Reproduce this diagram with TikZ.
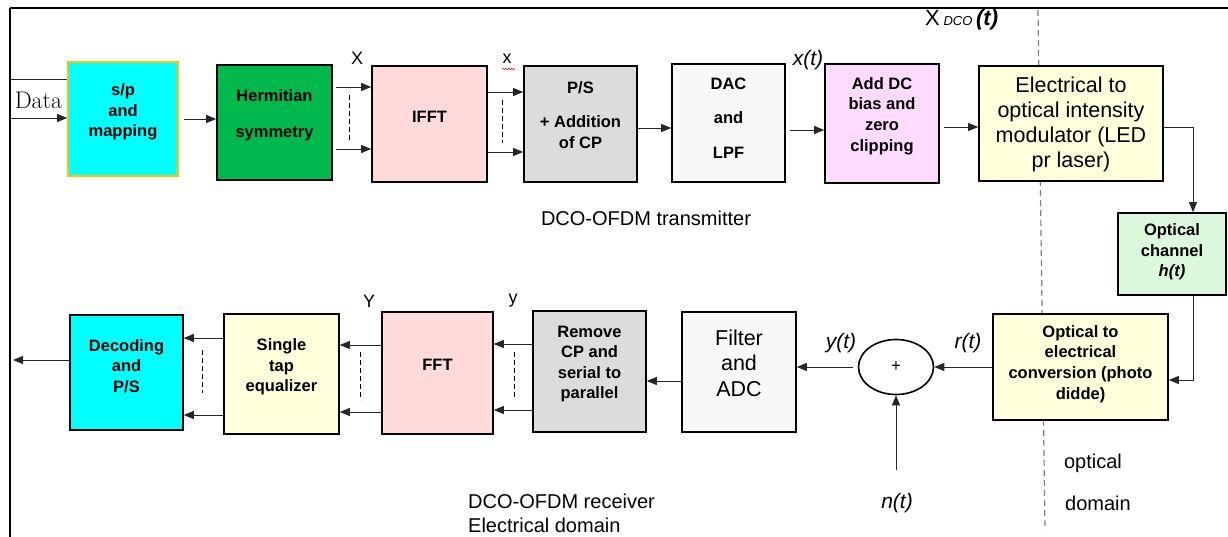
\documentclass[tikz,border=0pt]{standalone}
\usepackage{fontspec}
\newfontfamily\arialf{Liberation Sans}
\usetikzlibrary{arrows.meta,calc,decorations.pathmorphing,shapes.geometric}
\definecolor{cyanc}{HTML}{00FFFF}
\definecolor{goldc}{HTML}{FFC000}
\definecolor{greenc}{HTML}{00B84C}
\definecolor{pinkc}{HTML}{FFDADA}
\definecolor{grayc}{HTML}{DCDCDC}
\definecolor{whitec}{HTML}{F8F8F8}
\definecolor{lilac}{HTML}{FFDBFF}
\definecolor{yellowc}{HTML}{FFFFDC}
\definecolor{lgreenc}{HTML}{DCF8DC}
\definecolor{domgray}{HTML}{808080}
\begin{document}
\begin{tikzpicture}[x=1pt,y=-1pt,
  box/.style={draw=black, line width=1.6pt, inner sep=0pt},
  btxt/.style={font=\arialf\bfseries\fontsize{16.5}{20.6}\selectfont, align=center, inner sep=0pt},
  rtxt/.style={font=\arialf\fontsize{20}{25}\selectfont, align=center, inner sep=0pt},
  lbl/.style={font=\arialf\fontsize{18}{20}\selectfont, inner sep=0pt},
  ilbl/.style={font=\arialf\itshape\fontsize{21}{22}\selectfont, inner sep=0pt},
  arr/.style={draw=black!85, line width=0.8pt, -{Triangle[length=10pt,width=8pt]}},
  ln/.style={draw=black!85, line width=0.8pt},
  dsh/.style={draw=black, line width=1pt, dash pattern=on 5pt off 3pt}]
\useasboundingbox (0,0) rectangle (1228,537);

% frame
\draw[line width=1.5pt] (10,8) -- (1228,8);
\draw[line width=2.5pt] (10,8) -- (10,537);

% domain divider
\draw[domgray, line width=1.2pt, dash pattern=on 6pt off 4pt] (1038,10) -- (1045,530);

% transmitter boxes
\node[box, draw=goldc, fill=cyanc, minimum width=110pt, minimum height=114pt] (sp) at (123,119) {};
\node[box, fill=greenc, minimum width=115pt, minimum height=115pt] (herm) at (274.5,122.5) {};
\node[box, fill=pinkc, minimum width=115pt, minimum height=116pt] (ifft) at (429.5,124) {};
\node[box, fill=grayc, minimum width=113pt, minimum height=116pt] (ps) at (580.5,124) {};
\node[box, fill=whitec, minimum width=113pt, minimum height=118pt] (dac) at (728.5,123) {};
\node[box, fill=lilac, minimum width=114pt, minimum height=119pt] (adddc) at (882,123.5) {};
\node[box, fill=yellowc, minimum width=184pt, minimum height=115pt] (eo) at (1071,123.5) {};
\node[box, fill=lgreenc, minimum width=108pt, minimum height=82pt] (och) at (1172,254) {};

% receiver boxes
\node[box, fill=yellowc, minimum width=175pt, minimum height=106pt] (oe) at (1080.5,367) {};
\node[draw=black, line width=1.6pt, ellipse, minimum width=75pt, minimum height=55pt, inner sep=0pt] (sum) at (896,367) {};
\node[box, fill=whitec, minimum width=114pt, minimum height=120pt] (filt) at (739,372) {};
\node[box, fill=grayc, minimum width=113pt, minimum height=121pt] (rcp) at (589.5,371.5) {};
\node[box, fill=pinkc, minimum width=111pt, minimum height=122pt] (fft) at (437.5,373) {};
\node[box, fill=yellowc, minimum width=115pt, minimum height=120pt] (eq) at (281.5,374) {};
\node[box, fill=cyanc, minimum width=113pt, minimum height=115pt] (dec) at (126.5,372.5) {};

% box texts
\node[btxt] (spT) at (123,112) {s/p\\and\\mapping};
\node[btxt] (hermT) at (274.5,115) {Hermitian\\[15pt]symmetry};
\node[btxt] (ifftT) at (429.5,117) {IFFT};
\node[btxt] (psT) at (580.5,115) {P/S\\[14pt]+ Addition\\of CP};
\node[btxt] (dacT) at (728.5,118) {DAC\\[14pt]and\\[14pt]LPF};
\node[btxt] (addT) at (882,116) {Add DC\\bias and\\zero\\clipping};
\node[rtxt, font=\arialf\fontsize{21.5}{25}\selectfont] (eoT) at (1071,124) {Electrical to\\optical intensity\\modulator (LED\\pr laser)};
\node[btxt] (ochT) at (1172,252) {Optical\\channel\\\textit{h(t)}};
\node[btxt] (oeT) at (1080.5,364) {Optical to\\electrical\\conversion (photo\\didde)};
\node[font=\arialf\fontsize{17}{20}\selectfont, inner sep=0pt] (plus) at (sum.center) {+};
\node[rtxt, font=\arialf\fontsize{21.5}{25.5}\selectfont] (filtT) at (739,363) {Filter\\and\\ADC};
\node[btxt] (rcpT) at (589.5,364) {Remove\\CP and\\serial to\\parallel};
\node[btxt] (fftT) at (437.5,365) {FFT};
\node[btxt] (eqT) at (281.5,367) {Single\\tap\\equalizer};
\node[btxt] (decT) at (126.5,366) {Decoding\\and\\P/S};

% labels
\node[font=\fontsize{24}{28}\selectfont, inner sep=0pt] (data) at (38.5,100) {Data};
\node[lbl] (lX) at (357,58) {X};
\node[lbl] (lx) at (507,59) {x};
\draw[red, line width=0.6pt, decorate, decoration={snake, amplitude=0.8pt, segment length=3pt}] (502,69) -- (515,69);
\node[ilbl] (lxt) at (808,60) {x(t)};
\node[lbl, anchor=west, font=\arialf\fontsize{22}{24}\selectfont] (lXdco) at (925,20) {X\,{\itshape\fontsize{13}{14}\selectfont DCO}\,{\bfseries\itshape (t)}};
\node[lbl] (lY) at (369,301) {Y};
\node[lbl] (ly) at (513,301) {y};
\node[ilbl] (lyt) at (841,343) {y(t)};
\node[ilbl] (lrt) at (968,343) {r(t)};
\node[ilbl] (lnt) at (897,503) {n(t)};
\node[rtxt] (ttx) at (646,218) {DCO-OFDM transmitter};
\node[rtxt, align=left, anchor=north west, font=\arialf\fontsize{20}{24}\selectfont] (trx) at (468,494) {DCO-OFDM receiver\\Electrical domain};
\node[rtxt] (topt) at (1093,463) {optical};
\node[rtxt] (tdom) at (1098,503) {domain};

% free ends
\coordinate (din1) at (10,79);
\coordinate (din2) at (10,118);
\coordinate (dout) at (13,360);
\coordinate (nin) at (896,470);

% transmitter connectors
\draw[ln] (din1) -- (sp.west |- din1);
\draw[arr] (din2) -- (sp.west |- din2);
\draw[arr, shorten <=5pt] (sp.east |- 0,119) -- (herm.west |- 0,119);
\draw[arr, shorten <=3pt] (herm.east |- 0,87) -- (ifft.west |- 0,87);
\draw[arr, shorten <=3pt] (herm.east |- 0,149) -- (ifft.west |- 0,149);
\draw[arr] (ifft.east |- 0,92) -- (ps.west |- 0,92);
\draw[arr] (ifft.east |- 0,152) -- (ps.west |- 0,152);
\draw[arr] (ps.east |- 0,128) -- (dac.west |- 0,128);
\draw[arr, shorten <=4pt] (dac.east |- 0,130) -- (adddc.west |- 0,130);
\draw[arr, shorten <=4pt] (adddc.east |- 0,127) -- (eo.west |- 0,127);
\draw[arr] (eo.east |- 0,127) -| ([xshift=21pt]och.north);
\draw[arr] ([xshift=21pt]och.south) |- (oe.east |- 0,380);

% receiver connectors
\draw[arr] (oe.west) -- (sum.east);
\draw[arr] (nin) -- (sum.south);
\draw[arr, shorten <=5pt] (sum.west) -- (filt.east |- sum.west);
\draw[arr] (filt.west |- 0,381) -- (rcp.east |- 0,381);
\draw[arr] (rcp.west |- 0,344) -- (fft.east |- 0,344);
\draw[arr] (rcp.west |- 0,410) -- (fft.east |- 0,410);
\draw[arr] (fft.west |- 0,345) -- (eq.east |- 0,345);
\draw[arr] (fft.west |- 0,412) -- (eq.east |- 0,412);
\draw[arr] (eq.west |- 0,338) -- (dec.east |- 0,338);
\draw[arr] (eq.west |- 0,415) -- (dec.east |- 0,415);
\draw[arr] (dec.west |- dout) -- (dout);

% dashed "..." markers
\draw[dsh] (349,95) -- (349,140);
\draw[dsh] (502,100) -- (502,143);
\draw[dsh] (514,352) -- (514,397);
\draw[dsh] (360,352) -- (360,400);
\draw[dsh] (202,350) -- (202,393);
\end{tikzpicture}
\end{document}
